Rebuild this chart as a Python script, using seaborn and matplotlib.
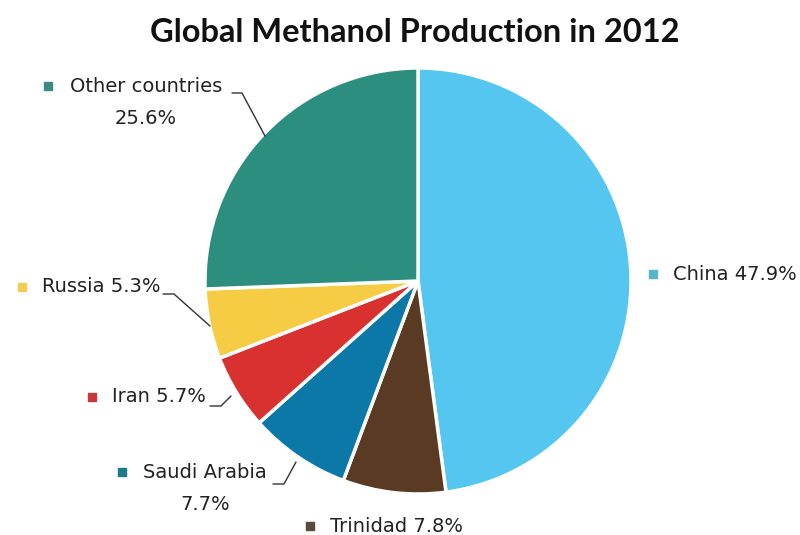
import matplotlib
matplotlib.use("Agg")
import matplotlib.pyplot as plt
import seaborn as sns

countries = ["China", "Trinidad", "Saudi Arabia", "Iran", "Russia", "Other countries"]
shares = [47.9, 7.8, 7.7, 5.7, 5.3, 25.6]
label_texts = ["China 47.9%", "Trinidad 7.8%", "Saudi Arabia\n7.7%", "Iran 5.7%",
               "Russia 5.3%", "Other countries\n25.6%"]
colors = ["#55C6EF", "#5A3A22", "#0B78A8", "#D93030", "#F6CC44", "#2C8E7E"]
marker_colors = ["#55B8C8", "#5A4A3A", "#1A7C88", "#C83838", "#F2CC55", "#3D8A80"]

sns.set_theme(style="white")
plt.rcParams['font.family'] = ['DejaVu Sans']

W, H = 800, 535
fig = plt.figure(figsize=(W / 100, H / 100), dpi=100)
ax = fig.add_axes([0, 0, 1, 1])

cx, cy, r = 418, H - 281, 213
ax.pie(shares, colors=colors, startangle=90, counterclock=False, center=(cx, cy),
       radius=r, wedgeprops=dict(edgecolor="white", linewidth=2.5), frame=True)
ax.set_xlim(0, W)
ax.set_ylim(0, H)
ax.set_aspect("equal")
ax.axis("off")

ax.text(415, H - 33, "Global Methanol Production in 2012", ha="center", va="center",
        fontsize=23.5, fontweight="bold", color="#111111", family=["Lato", "DejaVu Sans"])

layout = [
    (653, 673, 274),
    (310, 330, 526),
    (122, 143, 472),
    (92, 112, 397),
    (22, 42, 287),
    (48, 70, 86),
]
fs = 14
for (mx, tx, ty), lab, mc in zip(layout, label_texts, marker_colors):
    ax.plot([mx], [H - ty], marker="s", ms=5.5, color=mc, mec=mc, ls="none")
    parts = lab.split("\n")
    t = ax.text(tx, H - ty, parts[0], ha="left", va="center", fontsize=fs, color="#222222")
    if len(parts) > 1:
        fig.canvas.draw()
        bb = t.get_window_extent()
        mid = (bb.x0 + bb.x1) / 2
        ax.text(mid, H - ty - 32, parts[1], ha="center", va="center", fontsize=fs, color="#222222")

leaders = [
    [(232, 93), (242, 93), (265, 136)],
    [(163, 294), (174, 294), (210, 326)],
    [(210, 406), (221, 406), (231, 396)],
    [(273, 484), (284, 484), (296, 462)],
]
for pts in leaders:
    ax.plot([p[0] for p in pts], [H - p[1] for p in pts], color="#333333", lw=1)

fig.savefig("out.png", dpi=100, facecolor="white")
